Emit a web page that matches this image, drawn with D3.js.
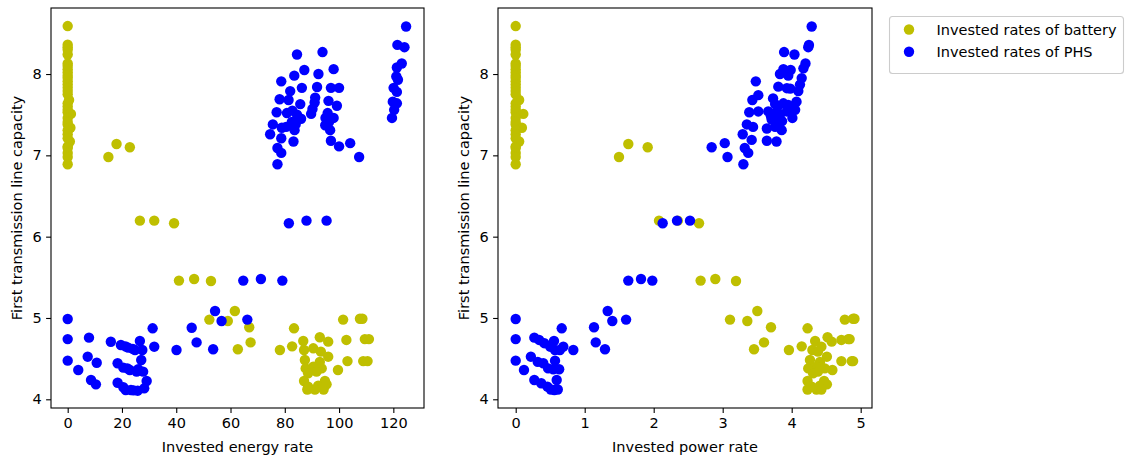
<!DOCTYPE html>
<html>
<head>
<meta charset="utf-8">
<script src="https://cdn.jsdelivr.net/npm/d3@7"></script>
<style>
  html, body { margin: 0; padding: 0; background: #fff; }
  svg { display: block; font-family: "DejaVu Sans", sans-serif; }
</style>
</head>
<body>
<svg id="chart" width="1128" height="456"></svg>
<script>
// ---- data: [x, capacity] pairs per storage type and panel ----
const batteryEnergy = [
  [0, 8.59], [0, 8.36], [0, 8.33], [0, 8.30], [0, 8.24], [0, 8.13], [0, 8.10], [0, 8.06],
  [0, 8.02], [0, 7.98], [0, 7.95], [0, 7.91], [0, 7.87], [0, 7.83], [0, 7.79], [0, 7.75],
  [0.5, 7.68], [0, 7.64], [0, 7.60], [0, 7.56], [0, 7.53], [1.2, 7.51], [0, 7.46], [0, 7.41],
  [0, 7.38], [1.0, 7.34], [0, 7.31], [0, 7.26], [0, 7.21], [0.8, 7.17], [0, 7.11], [0, 7.09],
  [0, 7.03], [0, 6.98], [0, 6.89],
  [15.0, 6.98], [18.0, 7.14], [22.9, 7.10],
  [26.6, 6.197], [31.9, 6.197], [39.2, 6.165],
  [41.0, 5.46], [46.6, 5.48], [52.8, 5.455],
  [52.2, 4.98], [59.0, 4.963], [61.6, 5.086], [66.9, 4.886], [62.7, 4.615], [67.4, 4.70],
  [78.2, 4.606], [82.7, 4.651], [83.4, 4.873],
  [86.8, 4.717], [87.1, 4.606], [92.9, 4.763], [96.0, 4.709], [90.5, 4.627], [93.3, 4.586],
  [87.4, 4.483], [96.0, 4.524], [92.9, 4.46], [90.5, 4.40], [87.7, 4.38], [93.6, 4.38],
  [88.6, 4.32], [91.7, 4.34], [99.6, 4.36], [87.1, 4.225], [94.8, 4.225], [88.6, 4.155],
  [92.3, 4.167], [95.4, 4.184], [91.1, 4.12], [88.3, 4.12], [94.3, 4.12],
  [101.5, 4.98], [107.7, 4.99], [108.6, 4.99], [102.7, 4.73], [109.5, 4.74], [111.0, 4.74],
  [103.1, 4.47], [108.9, 4.47], [110.5, 4.47]
];

const phsEnergy = [
  [124.7, 8.585], [121.5, 8.358], [124.1, 8.33], [123.1, 8.13], [121.3, 8.08], [121.1, 7.97],
  [121.7, 7.93], [120.1, 7.83], [121.3, 7.78], [119.8, 7.66], [121.3, 7.64], [120.3, 7.56],
  [119.5, 7.46],
  [84.5, 8.24], [93.9, 8.27], [87.2, 8.05], [98.0, 8.06], [83.5, 7.98], [92.4, 8.0],
  [78.7, 7.91], [86.3, 7.83], [91.9, 7.84], [97.0, 7.83], [100.0, 7.83], [82.0, 7.79],
  [78.1, 7.69], [81.4, 7.68], [91.2, 7.71], [85.7, 7.63], [96.1, 7.67], [99.2, 7.61],
  [90.2, 7.57], [77.0, 7.53], [80.8, 7.52], [84.5, 7.50], [89.7, 7.51], [95.8, 7.52],
  [98.0, 7.46], [82.6, 7.41], [75.6, 7.38], [78.9, 7.34], [83.6, 7.31], [94.9, 7.37],
  [96.7, 7.31], [74.6, 7.26], [78.7, 7.21], [83.2, 7.17], [97.0, 7.18], [104.1, 7.15],
  [100.0, 7.11], [77.3, 7.09], [78.7, 7.03], [107.4, 6.98], [77.3, 6.89],
  [86.0, 7.45], [84.0, 7.38], [80.5, 7.35], [82.8, 7.55], [96.3, 7.41], [95.0, 7.46], [91.0, 7.65],
  [81.5, 6.165], [88.0, 6.197], [95.4, 6.197],
  [64.7, 5.46], [71.2, 5.48], [79.1, 5.46],
  [54.3, 5.086], [56.7, 4.963], [66.2, 4.98], [45.7, 4.88], [47.5, 4.70], [53.6, 4.615],
  [40.1, 4.606], [31.3, 4.873], [31.9, 4.647],
  [0, 4.988], [0, 4.74], [0, 4.475], [7.85, 4.758], [7.37, 4.524], [10.7, 4.45], [3.9, 4.36],
  [8.6, 4.237], [10.4, 4.184],
  [15.9, 4.708], [19.6, 4.668], [22.3, 4.635], [24.8, 4.606], [26.6, 4.717], [27.5, 4.606],
  [21.3, 4.65], [24.0, 4.62],
  [18.4, 4.443], [20.5, 4.389], [22.9, 4.36], [25.4, 4.34], [27.8, 4.34], [27.1, 4.483],
  [22.0, 4.38], [26.0, 4.37],
  [18.4, 4.204], [20.5, 4.148], [23.3, 4.114], [25.8, 4.106], [28.2, 4.135], [29.1, 4.225],
  [21.4, 4.114], [24.3, 4.11]
];

const batteryPower = [
  [0, 8.59], [0, 8.36], [0, 8.33], [0, 8.30], [0, 8.24], [0, 8.13], [0, 8.10], [0, 8.06],
  [0, 8.02], [0, 7.98], [0, 7.95], [0, 7.91], [0, 7.87], [0, 7.83], [0, 7.79], [0, 7.75],
  [0.05, 7.68], [0, 7.64], [0, 7.60], [0, 7.56], [0, 7.53], [0.11, 7.51], [0, 7.46], [0, 7.41],
  [0, 7.38], [0.09, 7.34], [0, 7.31], [0, 7.26], [0, 7.21], [0.05, 7.17], [0, 7.11], [0, 7.09],
  [0, 7.03], [0, 6.98], [0, 6.89],
  [1.497, 6.98], [1.632, 7.14], [1.913, 7.10],
  [2.077, 6.197], [2.35, 6.197], [2.657, 6.165],
  [2.68, 5.46], [2.893, 5.48], [3.193, 5.455],
  [3.106, 4.98], [3.357, 4.963], [3.502, 5.086], [3.70, 4.886], [3.454, 4.615], [3.599, 4.70],
  [3.96, 4.606], [4.145, 4.651], [4.23, 4.873],
  [4.34, 4.717], [4.30, 4.606], [4.52, 4.763], [4.58, 4.709], [4.43, 4.647], [4.38, 4.586],
  [4.265, 4.483], [4.51, 4.524], [4.41, 4.46], [4.36, 4.40], [4.24, 4.38], [4.48, 4.38],
  [4.31, 4.32], [4.38, 4.34], [4.59, 4.36], [4.23, 4.225], [4.47, 4.225], [4.29, 4.155],
  [4.41, 4.167], [4.51, 4.184], [4.36, 4.12], [4.23, 4.12], [4.43, 4.12],
  [4.77, 4.98], [4.89, 4.99], [4.91, 4.99], [4.72, 4.73], [4.82, 4.74], [4.84, 4.74],
  [4.72, 4.47], [4.87, 4.47], [4.89, 4.47]
];

const phsPower = [
  [4.29, 8.585], [4.25, 8.358], [4.24, 8.33], [3.89, 8.27], [4.04, 8.24], [4.20, 8.13],
  [4.17, 8.07], [3.88, 8.06], [3.985, 8.05], [3.83, 8.0], [3.95, 7.98], [4.145, 7.95],
  [3.48, 7.91], [4.12, 7.87], [3.806, 7.845], [3.93, 7.826], [4.096, 7.79], [3.516, 7.74],
  [3.43, 7.68], [4.07, 7.66], [3.73, 7.70], [3.76, 7.63], [3.88, 7.64], [4.05, 7.56],
  [3.385, 7.53], [3.516, 7.54], [3.66, 7.54], [3.76, 7.52], [3.83, 7.50], [3.93, 7.54],
  [4.01, 7.46], [3.71, 7.44], [3.35, 7.38], [3.44, 7.35], [3.64, 7.33], [3.76, 7.35],
  [3.855, 7.31], [3.29, 7.26], [3.42, 7.19], [3.64, 7.18], [3.78, 7.17], [3.03, 7.15],
  [3.32, 7.09], [3.37, 7.03], [3.07, 6.98], [3.30, 6.89], [2.84, 7.10],
  [3.80, 7.60], [3.70, 7.48], [3.86, 7.42], [3.95, 7.62], [3.78, 7.40], [3.98, 7.82],
  [2.13, 6.165], [2.338, 6.197], [2.526, 6.197],
  [1.632, 5.46], [1.816, 5.48], [1.98, 5.46],
  [1.135, 4.886], [1.16, 4.70], [1.294, 4.615], [1.333, 5.086], [1.40, 4.963], [1.60, 4.98],
  [0, 4.988], [0, 4.74], [0, 4.475], [0.12, 4.36], [0.22, 4.524], [0.27, 4.758], [0.27, 4.237],
  [0.34, 4.73], [0.32, 4.46], [0.37, 4.197], [0.415, 4.69], [0.40, 4.443], [0.46, 4.155],
  [0.50, 4.647], [0.47, 4.38], [0.56, 4.114], [0.555, 4.717], [0.57, 4.606], [0.545, 4.37],
  [0.594, 4.237], [0.61, 4.12], [0.57, 4.475], [0.63, 4.37], [0.64, 4.606], [0.667, 4.873],
  [0.69, 4.647], [0.835, 4.606], [0.51, 4.12]
];

const energyTicks = [0, 20, 40, 60, 80, 100, 120];
const powerTicks = [0, 1, 2, 3, 4, 5];
const capacityTicks = [4, 5, 6, 7, 8];

const seriesNames = ["Invested rates of battery", "Invested rates of PHS"];
const seriesColors = ["#bfbf00", "#0000ff"];

const yLabel = "First transmission line capacity";
const xLabels = ["Invested energy rate", "Invested power rate"];

// ---- drawing ----
const svg = d3.select("#chart");
const fontSize = 14.5;
const markerR = 5.2;

const yScale = d3.scaleLinear().domain([3.893, 8.812]).range([408, 8]);

const panels = [
  { left: 51, right: 424, xDomain: [-6.15, 131.3], ticks: energyTicks, label: xLabels[0],
    series: [batteryEnergy, phsEnergy] },
  { left: 498, right: 872, xDomain: [-0.2565, 5.164], ticks: powerTicks, label: xLabels[1],
    series: [batteryPower, phsPower] }
];

panels.forEach(p => {
  const x = d3.scaleLinear().domain(p.xDomain).range([p.left, p.right]);
  const g = svg.append("g");

  // scatter marks, battery first then PHS on top
  p.series.forEach((pts, i) => {
    g.append("g").selectAll("circle").data(pts).join("circle")
      .attr("cx", d => x(d[0]))
      .attr("cy", d => yScale(d[1]))
      .attr("r", markerR)
      .attr("fill", seriesColors[i]);
  });

  // axes
  const xAxis = d3.axisBottom(x).tickValues(p.ticks).tickSize(4.9).tickPadding(4.5)
    .tickFormat(d3.format("d"));
  const gx = svg.append("g").attr("transform", `translate(0,408)`).call(xAxis);
  const yAxis = d3.axisLeft(yScale).tickValues(capacityTicks).tickSize(4.9).tickPadding(4.5)
    .tickFormat(d3.format("d"));
  const gy = svg.append("g").attr("transform", `translate(${p.left},0)`).call(yAxis);
  [gx, gy].forEach(a => {
    a.select(".domain").remove();
    a.selectAll(".tick line").attr("stroke", "#000").attr("stroke-width", 1.1);
    a.selectAll(".tick text").attr("fill", "#000").attr("font-size", fontSize)
      .attr("font-family", "DejaVu Sans, sans-serif");
  });

  // frame
  svg.append("rect")
    .attr("x", p.left).attr("y", 8)
    .attr("width", p.right - p.left).attr("height", 400)
    .attr("fill", "none").attr("stroke", "#000").attr("stroke-width", 1.1);

  // axis labels
  svg.append("text")
    .attr("x", (p.left + p.right) / 2).attr("y", 452)
    .attr("text-anchor", "middle").attr("font-size", fontSize)
    .text(p.label);
  svg.append("text")
    .attr("transform", `translate(${p.left - 29.5},208) rotate(-90)`)
    .attr("text-anchor", "middle").attr("font-size", fontSize)
    .text(yLabel);
});

// legend
const lg = svg.append("g").attr("transform", "translate(889,16)");
lg.append("rect")
  .attr("x", 0.5).attr("y", 0.5).attr("width", 234).attr("height", 57)
  .attr("rx", 3).attr("fill", "#fff").attr("stroke", "#cccccc").attr("stroke-width", 1.1);
seriesNames.forEach((name, i) => {
  const cy = 13.5 + i * 22.3;
  lg.append("circle").attr("cx", 20).attr("cy", cy).attr("r", markerR)
    .attr("fill", seriesColors[i]);
  lg.append("text").attr("x", 47.5).attr("y", cy + 5)
    .attr("font-size", fontSize).text(name);
});
</script>
</body>
</html>
